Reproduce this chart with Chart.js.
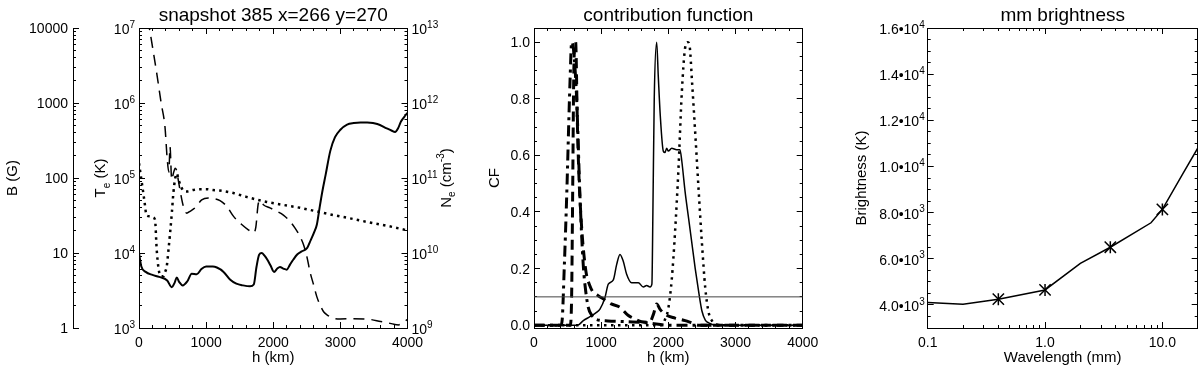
<!DOCTYPE html>
<html>
<head>
<meta charset="utf-8">
<script src="https://cdn.jsdelivr.net/npm/chart.js@4.4.1/dist/chart.umd.min.js"></script>
<style>
  html, body { margin: 0; padding: 0; background: #fff; }
  #wrap { position: relative; width: 1200px; height: 369px; }
  .panel { position: absolute; top: 0; }
</style>
</head>
<body>
<div id="wrap">
  <canvas class="panel" id="atmos" width="470" height="369" style="left:0"></canvas>
  <canvas class="panel" id="contrib" width="365" height="369" style="left:470px"></canvas>
  <canvas class="panel" id="bright" width="390" height="369" style="left:810px"></canvas>
</div>
<script>
const FONT = '"Liberation Sans", Arial, Helvetica, sans-serif';
const TICK = 14, LAB = 15, TITLE = 19;

// --- panel 1: atmosphere along h ---
const hTemp = [0, 35, 100, 200, 300, 420, 487, 530, 562, 600, 650, 720, 785, 860, 930, 1000, 1100, 1160, 1260, 1360,
  1450, 1550, 1654, 1710, 1750, 1790, 1828, 1870, 1910, 1960, 2012, 2060, 2100, 2150, 2201, 2250, 2300, 2360, 2424, 2499,
  2560, 2610, 2650, 2690, 2730, 2780, 2850, 2920, 3000, 3100, 3200, 3300, 3400, 3550, 3690, 3760, 3815, 3860, 3900, 3950, 4000];
const tempK = [10000, 6600, 5600, 5100, 4800, 4300, 3500, 4000, 4700, 4100, 3700, 4200, 5300, 5200, 6100, 6600, 6600, 6400, 5600, 4400,
  3900, 3700, 3600, 3800, 6500, 9500, 10000, 9200, 8200, 6800, 5600, 6200, 6500, 6200, 6000, 7000, 8200, 9600, 10500, 11500,
  15000, 19000, 24000, 40000, 65000, 110000, 230000, 350000, 440000, 515000, 540000, 550000, 548000, 525000, 460000, 430000, 410000, 460000, 560000, 650000, 740000];

const hField = [130, 154, 210, 264, 330, 387, 420, 445, 462, 487, 512, 540, 562, 586, 611, 661, 711, 760, 835, 934,
  1033, 1120, 1207, 1306, 1406, 1530, 1629, 1704, 1740, 1778, 1810, 1853, 1952, 2052, 2151, 2240, 2325, 2400, 2450, 2500,
  2550, 2600, 2650, 2700, 2750, 2800, 2900, 3000, 3194, 3443, 3600, 3691, 3800, 3864, 3939, 4000];
const fieldG = [13000, 10000, 5000, 2500, 1000, 480, 180, 120, 260, 95, 115, 135, 125, 93, 69, 42, 34, 36, 40, 51,
  54, 53, 50, 42, 31, 24, 20.4, 18.5, 22, 46, 50, 44, 40, 36, 32, 27, 21.5, 16.5, 13, 9,
  5.5, 3.8, 2.6, 2.0, 1.65, 1.5, 1.35, 1.32, 1.33, 1.3, 1.22, 1.18, 1.12, 1.1, 1.2, 1.3];

const hDens = [0, 40, 80, 114, 160, 200, 238, 264, 290, 313, 340, 363, 390, 413, 440, 462, 490, 512, 540, 562,
  590, 620, 660, 711, 800, 900, 1000, 1100, 1200, 1406, 1600, 1903, 2200, 2400, 2700, 2897, 3100, 3394, 3700, 4000];
const densCm3 = [1.58e11, 8.9e10, 5.0e10, 3.16e10, 3.1e10, 3.0e10, 2.8e10, 1.1e10, 6.3e9, 5.1e9, 4.9e9, 4.9e9, 5.6e9, 6.6e9, 1.12e10, 1.8e10, 3.5e10, 6.3e10, 1.0e11, 1.15e11,
  9.5e10, 7.9e10, 6.8e10, 6.6e10, 6.9e10, 7.1e10, 7.1e10, 6.9e10, 6.8e10, 6.3e10, 5.6e10, 4.8e10, 4.3e10, 4.0e10, 3.5e10, 3.2e10, 2.95e10, 2.6e10, 2.3e10, 2.0e10];

// --- panel 2: contribution functions ---
const hDashDot = [0, 400, 420, 450, 486, 536, 561, 590, 635, 685, 734, 770, 808, 860, 932, 1100, 1400, 1700, 2000, 4000];
const cfDashDot = [0, 0, 0.02, 0.2, 0.45, 0.86, 1.0, 0.97, 0.8, 0.45, 0.21, 0.12, 0.063, 0.035, 0.02, 0.015, 0.012, 0.008, 0, 0];
const hDashed = [0, 540, 560, 575, 590, 605, 620, 645, 670, 695, 720, 745, 780, 830, 870, 950, 1050, 1150, 1280, 1400,
  1500, 1600, 1720, 1780, 1826, 1880, 1975, 2100, 2250, 2350, 2450, 4000];
const cfDashed = [0, 0, 0.1, 0.45, 0.85, 0.99, 1.0, 0.72, 0.52, 0.4, 0.31, 0.245, 0.18, 0.14, 0.12, 0.105, 0.09, 0.075, 0.063, 0.035,
  0.022, 0.012, 0.01, 0.04, 0.075, 0.055, 0.035, 0.025, 0.016, 0.008, 0, 0];
const hSolid = [0, 650, 734, 833, 930, 982, 1057, 1106, 1181, 1230, 1280, 1329, 1379, 1453, 1553, 1627, 1677, 1727, 1755, 1770,
  1790, 1826, 1850, 1880, 1925, 1950, 1975, 2000, 2050, 2124, 2173, 2200, 2250, 2300, 2350, 2400, 2450, 2500, 2550, 2600, 2700, 4000];
const cfSolid = [0, 0, 0.016, 0.03, 0.045, 0.057, 0.098, 0.145, 0.16, 0.214, 0.25, 0.226, 0.18, 0.15, 0.15, 0.135, 0.14, 0.135, 0.145, 0.4,
  0.8, 1.0, 0.88, 0.74, 0.615, 0.61, 0.625, 0.615, 0.625, 0.62, 0.62, 0.58, 0.47, 0.38, 0.29, 0.2, 0.12, 0.05, 0.018, 0.008, 0, 0];
const hDotted = [0, 1900, 1950, 2000, 2050, 2100, 2150, 2200, 2250, 2290, 2320, 2350, 2400, 2450, 2500, 2550, 2600, 2650, 2700, 2800, 4000];
const cfDotted = [0, 0, 0.02, 0.06, 0.16, 0.33, 0.55, 0.82, 0.98, 1.0, 0.98, 0.87, 0.68, 0.48, 0.29, 0.13, 0.045, 0.015, 0.003, 0, 0];
const cfLevelH = [0, 4000];
const cfLevel = [0.1, 0.1];

// --- panel 3: mm brightness ---
const wavelength = [0.1, 0.2, 0.4, 1.0, 2.0, 3.6, 8.0, 10, 15, 20];
const brightness = [4100, 4030, 4250, 4650, 5800, 6500, 7560, 8140, 9700, 10790];
const starWavelength = [0.4, 1.0, 3.6, 10];
const starBrightness = [4250, 4650, 6500, 8140];

// tick positions
const hMajor = [0, 1000, 2000, 3000, 4000];
const hMinor = [200, 400, 600, 800, 1200, 1400, 1600, 1800, 2200, 2400, 2600, 2800, 3200, 3400, 3600, 3800];
const bMajor = [1, 10, 100, 1000, 10000];
const teMajor = [1e3, 1e4, 1e5, 1e6, 1e7];
const neMajor = [1e9, 1e10, 1e11, 1e12, 1e13];
const cfMajor = [0, 0.2, 0.4, 0.6, 0.8, 1.0];
const cfMinor = [0.05, 0.1, 0.15, 0.25, 0.3, 0.35, 0.45, 0.5, 0.55, 0.65, 0.7, 0.75, 0.85, 0.9, 0.95];
const tbMajor = [4000, 6000, 8000, 10000, 12000, 14000, 16000];
const tbMinor = [3500, 4500, 5000, 5500, 6500, 7000, 7500, 8500, 9000, 9500, 10500, 11000, 11500, 12500, 13000, 13500, 14500, 15000, 15500];
const wlMajor = [0.1, 1, 10];
const wlMinor = [0.2, 0.3, 0.4, 0.5, 0.6, 0.7, 0.8, 0.9, 2, 3, 4, 5, 6, 7, 8, 9, 20];

function logMinor(lo, hi) {
  const out = [];
  for (let e = lo; e < hi; e++) for (let m = 2; m <= 9; m++) out.push(m * Math.pow(10, e));
  return out;
}

const pairs = (xs, ys) => xs.map((x, i) => ({ x, y: ys[i] }));

// axis that only draws its line and inward tick marks; labels come from the text plugin
function tickAxis(axis, pos, type, min, max, values, len, size, weight) {
  return {
    axis, position: pos, type, min, max, weight,
    grid: { drawOnChartArea: false, drawTicks: true, tickLength: -len, tickColor: '#000', tickWidth: 1 },
    border: { display: true, color: '#000', width: 1 },
    ticks: { display: false, autoSkip: false },
    afterBuildTicks: s => { s.ticks = values.map(v => ({ value: v })); },
    afterFit: s => { if (axis === 'x') s.height = size; else s.width = size; }
  };
}

function series(xs, ys, yId, extra) {
  return Object.assign({
    data: pairs(xs, ys), xAxisID: 'x', yAxisID: yId,
    borderColor: '#000', borderWidth: 1.5, pointRadius: 0, pointHoverRadius: 0,
    fill: false, cubicInterpolationMode: 'monotone'
  }, extra);
}

// text with sub/superscripts: parts = [[text, 0|1|-1]]
function rich(ctx, parts, x, y, align, size) {
  const small = Math.round(size * 0.68);
  const fonts = parts.map(p => (p[1] ? small : size) + 'px ' + FONT);
  const widths = parts.map((p, i) => { ctx.font = fonts[i]; return ctx.measureText(p[0]).width; });
  const total = widths.reduce((a, b) => a + b, 0);
  let cx = align === 'right' ? x - total : align === 'center' ? x - total / 2 : x;
  ctx.textAlign = 'left';
  ctx.textBaseline = 'alphabetic';
  parts.forEach((p, i) => {
    ctx.font = fonts[i];
    const dy = p[1] === 1 ? -size * 0.45 : p[1] === -1 ? size * 0.3 : 0;
    ctx.fillText(p[0], cx, y + dy);
    cx += widths[i];
  });
}
function richUp(ctx, parts, x, y, size) {
  ctx.save();
  ctx.translate(x, y);
  ctx.rotate(-Math.PI / 2);
  rich(ctx, parts, 0, 0, 'center', size);
  ctx.restore();
}
const pow10 = v => [['10'], [String(Math.round(Math.log10(v))), 1]];

const common = {
  responsive: false,
  animation: false,
  events: [],
  layout: { padding: 0, autoPadding: false },
  plugins: { legend: { display: false }, tooltip: { enabled: false }, title: { display: false } }
};

// panel 1
new Chart(document.getElementById('atmos'), {
  type: 'line',
  data: {
    datasets: [
      series(hTemp, tempK, 'te', { borderWidth: 2 }),
      series(hField, fieldG, 'b', { borderWidth: 1.5, borderDash: [11, 7] }),
      series(hDens, densCm3, 'ne', { borderWidth: 2.5, borderDash: [2.5, 4.2] })
    ]
  },
  options: Object.assign({}, common, {
    scales: {
      x: tickAxis('x', 'bottom', 'linear', 0, 4000, hMajor, 6, 41, 1),
      xm: tickAxis('x', 'bottom', 'linear', 0, 4000, hMinor, 3, 0, 0),
      xt: tickAxis('x', 'top', 'linear', 0, 4000, hMajor, 6, 28, 1),
      xtm: tickAxis('x', 'top', 'linear', 0, 4000, hMinor, 3, 0, 0),
      b: tickAxis('y', 'left', 'logarithmic', 1, 1e4, bMajor, 6, 73, 3),
      bm: tickAxis('y', 'left', 'logarithmic', 1, 1e4, logMinor(0, 4), 3, 0, 2),
      te: tickAxis('y', 'left', 'logarithmic', 1e3, 1e7, teMajor, 6, 66, 1),
      tem: tickAxis('y', 'left', 'logarithmic', 1e3, 1e7, logMinor(3, 7), 3, 0, 0),
      ne: tickAxis('y', 'right', 'logarithmic', 1e9, 1e13, neMajor, 6, 62.5, 1),
      nem: tickAxis('y', 'right', 'logarithmic', 1e9, 1e13, logMinor(9, 13), 3, 0, 0)
    }
  }),
  plugins: [{
    id: 'atmosText',
    afterDraw(chart) {
      const { ctx, chartArea: a, scales: s } = chart;
      const cx = (a.left + a.right) / 2, cy = (a.top + a.bottom) / 2;
      ctx.save();
      ctx.fillStyle = '#000';
      rich(ctx, [['snapshot 385 x=266 y=270']], cx, 21, 'center', TITLE);
      rich(ctx, [['h (km)']], cx, 362, 'center', LAB);
      hMajor.forEach(v => rich(ctx, [[String(v)]], s.x.getPixelForValue(v), 347, 'center', TICK));
      bMajor.forEach(v => rich(ctx, [[String(v)]], s.b.right - 5, s.b.getPixelForValue(v) + 5, 'right', TICK));
      teMajor.forEach(v => rich(ctx, pow10(v), a.left - 4, s.te.getPixelForValue(v) + 6, 'right', TICK));
      neMajor.forEach(v => rich(ctx, pow10(v), a.right + 4, s.ne.getPixelForValue(v) + 6, 'left', TICK));
      richUp(ctx, [['B (G)']], 17, cy, LAB);
      richUp(ctx, [['T'], ['e', -1], [' (K)']], a.left - 34, cy, LAB);
      richUp(ctx, [['N'], ['e', -1], [' (cm'], ['-3', 1], [')']], a.right + 43, cy, LAB);
      ctx.restore();
    }
  }]
});

// panel 2
new Chart(document.getElementById('contrib'), {
  type: 'line',
  data: {
    datasets: [
      series(cfLevelH, cfLevel, 'y', { borderWidth: 1, borderColor: '#444', cubicInterpolationMode: 'default', tension: 0 }),
      series(hDashDot, cfDashDot, 'y', { borderWidth: 3, borderDash: [11, 5, 3, 5] }),
      series(hDashed, cfDashed, 'y', { borderWidth: 3, borderDash: [10, 6] }),
      series(hSolid, cfSolid, 'y', { borderWidth: 1.5 }),
      series(hDotted, cfDotted, 'y', { borderWidth: 2.5, borderDash: [2.5, 4.5] })
    ]
  },
  options: Object.assign({}, common, {
    scales: {
      x: tickAxis('x', 'bottom', 'linear', 0, 4000, hMajor, 6, 41, 1),
      xm: tickAxis('x', 'bottom', 'linear', 0, 4000, hMinor, 3, 0, 0),
      xt: tickAxis('x', 'top', 'linear', 0, 4000, hMajor, 6, 28, 1),
      xtm: tickAxis('x', 'top', 'linear', 0, 4000, hMinor, 3, 0, 0),
      y: tickAxis('y', 'left', 'linear', -0.01, 1.05, cfMajor, 6, 64, 1),
      ym: tickAxis('y', 'left', 'linear', -0.01, 1.05, cfMinor, 3, 0, 0),
      yr: tickAxis('y', 'right', 'linear', -0.01, 1.05, cfMajor, 6, 32.3, 1),
      yrm: tickAxis('y', 'right', 'linear', -0.01, 1.05, cfMinor, 3, 0, 0)
    }
  }),
  plugins: [{
    id: 'contribText',
    afterDraw(chart) {
      const { ctx, chartArea: a, scales: s } = chart;
      const cx = (a.left + a.right) / 2, cy = (a.top + a.bottom) / 2;
      ctx.save();
      ctx.fillStyle = '#000';
      rich(ctx, [['contribution function']], cx, 21, 'center', TITLE);
      rich(ctx, [['h (km)']], cx, 362, 'center', LAB);
      hMajor.forEach(v => rich(ctx, [[String(v)]], s.x.getPixelForValue(v), 347, 'center', TICK));
      cfMajor.forEach(v => rich(ctx, [[v.toFixed(1)]], a.left - 4, s.y.getPixelForValue(v) + 5, 'right', TICK));
      richUp(ctx, [['CF']], a.left - 35.5, cy, LAB);
      ctx.restore();
    }
  }]
});

// panel 3
new Chart(document.getElementById('bright'), {
  type: 'line',
  data: {
    datasets: [
      series(wavelength, brightness, 'y', { borderWidth: 1.5, cubicInterpolationMode: 'default', tension: 0 }),
      series(starWavelength, starBrightness, 'y', {
        showLine: false, pointStyle: 'crossRot', pointRadius: 8, pointBorderWidth: 1.5,
        pointBorderColor: '#000', pointBackgroundColor: 'rgba(0,0,0,0)'
      }),
      series(starWavelength, starBrightness, 'y', {
        showLine: false, pointStyle: 'line', pointRotation: 90, pointRadius: 6, pointBorderWidth: 1.5,
        pointBorderColor: '#000'
      })
    ]
  },
  options: Object.assign({}, common, {
    scales: {
      x: tickAxis('x', 'bottom', 'logarithmic', 0.1, 20, wlMajor, 6, 41, 1),
      xm: tickAxis('x', 'bottom', 'logarithmic', 0.1, 20, wlMinor, 3, 0, 0),
      xt: tickAxis('x', 'top', 'logarithmic', 0.1, 20, wlMajor, 6, 28, 1),
      xtm: tickAxis('x', 'top', 'logarithmic', 0.1, 20, wlMinor, 3, 0, 0),
      y: tickAxis('y', 'left', 'linear', 3000, 16000, tbMajor, 6, 117.7, 1),
      ym: tickAxis('y', 'left', 'linear', 3000, 16000, tbMinor, 3, 0, 0),
      yr: tickAxis('y', 'right', 'linear', 3000, 16000, tbMajor, 6, 2.3, 1),
      yrm: tickAxis('y', 'right', 'linear', 3000, 16000, tbMinor, 3, 0, 0)
    }
  }),
  plugins: [{
    id: 'brightText',
    afterDraw(chart) {
      const { ctx, chartArea: a, scales: s } = chart;
      const cx = (a.left + a.right) / 2, cy = (a.top + a.bottom) / 2;
      ctx.save();
      ctx.fillStyle = '#000';
      rich(ctx, [['mm brightness']], cx, 21, 'center', TITLE);
      rich(ctx, [['Wavelength (mm)']], cx, 362, 'center', LAB);
      wlMajor.forEach(v => rich(ctx, [[v.toFixed(1)]], s.x.getPixelForValue(v), 347, 'center', TICK));
      tbMajor.forEach(v => {
        const e = v >= 10000 ? 4 : 3;
        rich(ctx, [[(v / Math.pow(10, e)).toFixed(1) + '\u202210'], [String(e), 1]], a.left - 3, s.y.getPixelForValue(v) + 6, 'right', TICK);
      });
      richUp(ctx, [['Brightness (K)']], a.left - 62, cy, LAB);
      ctx.restore();
    }
  }]
});
</script>
</body>
</html>
